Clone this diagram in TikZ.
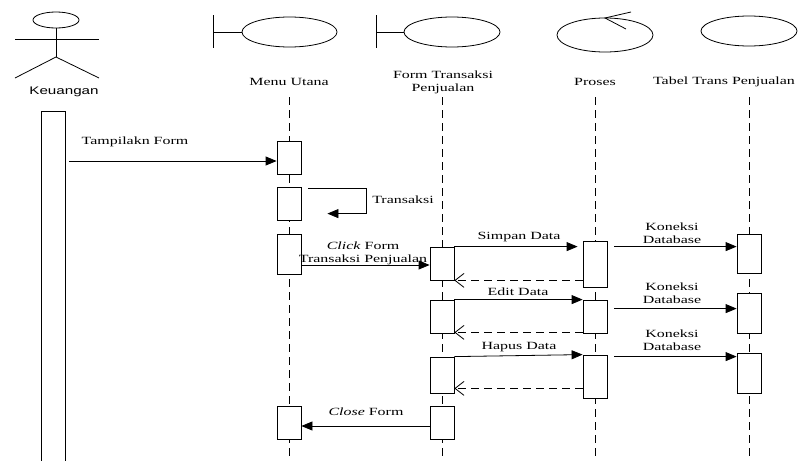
\documentclass[tikz,border=0pt]{standalone}
\usepackage{fontspec}
\setmainfont{Liberation Serif}[FakeStretch=1.45]
\newfontfamily\actorfont{Liberation Sans}[FakeStretch=1.38]
\usetikzlibrary{arrows.meta}
\tikzset{
  lbl/.style={font=\fontsize{11}{13}\selectfont, inner sep=0pt, align=center},
  actbox/.style={draw, fill=white, minimum width=24pt, inner sep=0pt, line width=0.8pt},
  lifeline/.style={dash pattern=on 8pt off 5pt, line width=0.8pt},
  msg/.style={line width=0.8pt, -{Triangle[length=11pt,width=9pt]}},
  ret/.style={line width=0.8pt, dash pattern=on 8pt off 5pt, -{Straight Barb[length=9pt,width=14pt]}},
  figline/.style={line width=0.8pt}
}
\begin{document}
\begin{tikzpicture}[x=1pt,y=-1pt]
\useasboundingbox (0,0) rectangle (807,461);
% actor
\draw[figline] (56,20) ellipse [x radius=23, y radius=8];
\draw[figline] (56,28) -- (56,57);
\draw[figline] (15,39) -- (99,39);
\draw[figline] (15,78) -- (56,57) -- (99,78);
\node[lbl, font=\actorfont\fontsize{11}{13}\selectfont] (kl) at (64,92) {Keuangan};
% boundary Menu Utana
\draw[figline] (213,15) -- (213,48);
\draw[figline] (213,32) -- (242,32);
\draw[figline] (289.5,32) ellipse [x radius=47.5, y radius=15];
\node[lbl] (mul) at (289,82) {Menu Utana};
% boundary Form
\draw[figline] (376,15) -- (376,48);
\draw[figline] (376,32) -- (404,32);
\draw[figline] (452,32) ellipse [x radius=48, y radius=15];
\node[lbl] (fl) at (443,82) {Form Transaksi\\Penjualan};
% control Proses
\draw[figline] (605,35) ellipse [x radius=48, y radius=17];
\draw[figline] (631,12) -- (605,18) -- (626,29);
\node[lbl] (pl) at (595,82) {Proses};
% entity Tabel
\draw[figline] (749,31) ellipse [x radius=48, y radius=15];
\node[lbl] (tl) at (724,82) {Tabel Trans Penjualan};
% lifelines
\coordinate (l1t) at (289,97); \coordinate (l1b) at (289,461);
\coordinate (l2t) at (442,97); \coordinate (l2b) at (442,461);
\coordinate (l3t) at (595,97); \coordinate (l3b) at (595,461);
\coordinate (l4t) at (749,97); \coordinate (l4b) at (749,461);
\draw[lifeline] (l1t) -- (l1b);
\draw[lifeline] (l2t) -- (l2b);
\draw[lifeline] (l3t) -- (l3b);
\draw[lifeline] (l4t) -- (l4b);
% actor bar
\node[actbox, anchor=north, minimum height=380pt] (kb) at (53,111) {};
% Menu boxes
\node[actbox, minimum height=33pt] (m1) at (289,157.5) {};
\node[actbox, minimum height=33pt] (m2) at (289,203.5) {};
\node[actbox, minimum height=40pt] (m3) at (289,254) {};
\node[actbox, minimum height=33pt] (m4) at (289,422.5) {};
% Form boxes
\node[actbox, minimum height=33pt] (f1) at (442,263.5) {};
\node[actbox, minimum height=33pt] (f2) at (442,316.5) {};
\node[actbox, minimum height=36pt] (f3) at (442,375) {};
\node[actbox, minimum height=33pt] (f4) at (442,422.5) {};
% Proses boxes
\node[actbox, minimum height=46pt] (p1) at (595,264) {};
\node[actbox, minimum height=33pt] (p2) at (595,316.5) {};
\node[actbox, minimum height=43pt] (p3) at (595,376.5) {};
% Tabel boxes
\node[actbox, minimum height=39pt] (t1) at (749,253.5) {};
\node[actbox, minimum height=40pt] (t2) at (749,313) {};
\node[actbox, minimum height=40pt] (t3) at (749,373) {};
% messages
\draw[msg] ([xshift=4pt,yshift=-3.5pt]kb.east |- m1.west) -- ([yshift=-3.5pt]m1.west);
\node[lbl] (lb1) at (135,142) {Tampilakn Form};
\draw[msg] ([xshift=7pt,yshift=-2pt]m2.north east) -- ++(58,0) -- ++(0,25) -- ++(-39,0);
\node[lbl] (lb2) at (403,200) {Transaksi};
\draw[msg] ([yshift=-11pt]m3.east) -- ([yshift=-11pt]m3.east -| f1.west);
\node[lbl] (lb3) at (363,253.5) {\textit{Click} Form\\Transaksi Penjualan};
\draw[msg] (f1.north east) -- ([xshift=-5pt]p1.west |- f1.north east);
\node[lbl] (lb4) at (519,237) {Simpan Data};
\draw[ret] (p1.west |- f1.south east) -- (f1.south east);
\draw[msg] ([xshift=7pt]p1.east |- f1.north east) -- (t1.west |- f1.north east);
\node[lbl] (lb5) at (672,233.5) {Koneksi\\Database};
\draw[msg] (f2.north east) -- (p2.north west);
\node[lbl] (lb6) at (518,292) {Edit Data};
\draw[ret] ([yshift=1pt]p2.south west) -- ([yshift=1pt]f2.south east);
\draw[msg] ([xshift=7pt,yshift=-9pt]p2.north east) -- ([yshift=-9pt]p2.north east -| t2.west);
\node[lbl] (lb7) at (672,293) {Koneksi\\Database};
\draw[msg] (f3.north east) -- (p3.north west);
\node[lbl] (lb8) at (519,347) {Hapus Data};
\draw[ret] ([yshift=5pt]f3.south east -| p3.west) -- ([yshift=5pt]f3.south east);
\draw[msg] ([xshift=7pt,yshift=-2pt]p3.north east) -- ([yshift=-2pt]p3.north east -| t3.west);
\node[lbl] (lb9) at (672,340) {Koneksi\\Database};
\draw[msg] ([yshift=-3.5pt]f4.west) -- ([yshift=-3.5pt]m4.east);
\node[lbl] (lb10) at (366,412) {\textit{Close} Form};
\end{tikzpicture}
\end{document}
